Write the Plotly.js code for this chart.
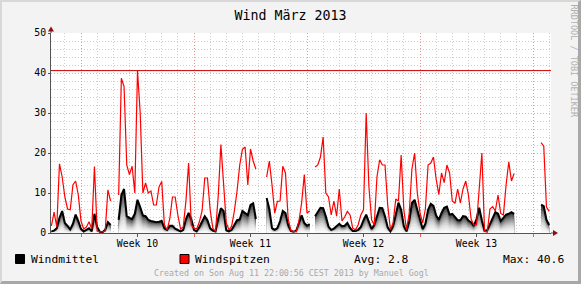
<!DOCTYPE html>
<html>
<head>
<meta charset="utf-8">
<script src="https://cdn.plot.ly/plotly-3.0.1.min.js"></script>
<style>
  html, body { margin: 0; padding: 0; background: #f3f3f3; }
  #wrap { position: relative; width: 581px; height: 284px; }
  #chart { position: absolute; left: 0; top: 0; width: 581px; height: 284px; }
  #frame { position: absolute; left: 0; top: 0; width: 581px; height: 284px; box-sizing: border-box;
           border-style: solid; border-width: 2px 3px 3px 2px;
           border-color: #d8d8d8 #a8a8a8 #a8a8a8 #d8d8d8; pointer-events: none; }
</style>
</head>
<body>
<div id="wrap"><div id="chart"></div><div id="frame"></div></div>
<script>
// ---- data (4-hourly samples starting 2013-03-02 04:00) ----
const sampleStart = '2013-03-02 04:00';
const sampleStepHours = 4;

const windspitzen = [
  1.8, 5.2, 1.5, 17.3, 14, 9, 6, 5.8, 12, 13,
  9.5, 3, 1, 1.5, 2.8, 1, 16.6, 0.5, 0.3, 0.3,
  0.5, 10.8, 8, null, null, 9.5, 38.7, 36.6, 17, 14.6,
  16.7, 10, 40.6, 30, 10, 12.5, 10, 10.5, 7, 7,
  11.5, 12.9, 2, 0.8, 3.5, 9, 9, 4.5, 1, 1.5,
  8, 17.5, 2, 1.2, 1, 2.8, 5.5, 13.75, 13.75, 5.8,
  1.2, 0.4, 9.2, 22.1, 12, 2.5, 0.8, 1.7, 5.5, 10.5,
  17, 20.9, 21.5, 12, 21, 18, 16, null, null, null,
  14, 18, 12, 5, 7.9, 8, 16.7, 15, 3.5, 0.6,
  0.4, 0.3, 3, 7.5, 14.6, 5, 5.5, null, 16.5, 17,
  19, 24, 10, 9, 4.5, 8, 4.2, 11, 3, 4,
  5.4, 4.5, 1.2, 0.8, 2, 4.5, 5.8, 30, 11.7, 3.3,
  2, 14, 18.3, 17, 17, 7, 0.8, 2.5, 8.5, 8,
  19.5, 5.8, 0.8, 5, 16, 20, 10, 5, 2.5, 6,
  17, 17.5, 19, 13.5, 9.6, 15, 12.6, 17, 15, 8,
  7.4, 11, 7.5, 11, 13, 9.5, 3.5, 2, 2, 12,
  20, 0.4, 0.2, 6, 6.6, 5.5, 9.5, 4.9, 4.5, 12,
  17.8, 13, 14.9, null, null, null, null, null, null, null,
  null, null, 22.6, 21.7, 6.5, 5.4
];

const windmittel = [
  0.4, 0.6, 1.2, 3.8, 5.5, 2.5, 1.8, 0.9, 2.3, 4.6,
  3, 1, 0.4, 0.8, 1.2, 0.4, 4.8, 1.5, 0.3, 0.2,
  0.8, 2.7, 2, null, null, 3.3, 9.5, 11, 4.2, 3.8,
  3.5, 4.8, 8.3, 6.5, 4.4, 4.2, 3.3, 3, 2.9, 2.7,
  2.8, 3, 1.2, 0.8, 1.8, 1.8, 1.1, 0.7, 0.4, 0.8,
  3.5, 5, 3.5, 0.8, 0.4, 1.5, 2.7, 4.2, 3.2, 1.2,
  0.6, 0.4, 3.7, 6.2, 5.5, 0.7, 0.4, 0.8, 2, 3.2,
  3.4, 5.5, 5, 4.5, 7, 7.4, 3.5, null, null, null,
  8.75, 6, 1.2, 0.8, 1.25, 3, 5.5, 5, 2, 0.5,
  0.3, 0.6, 2.5, 4.4, 2.5, 1.8, 2.2, null, 4.2, 5.2,
  6.3, 6.2, 4.2, 1.6, 0.8, 1.1, 1.8, 2.3, 1.7, 1.8,
  2.5, 1.25, 0.5, 0.5, 0.8, 1.5, 3.2, 4.6, 2.8, 1,
  2, 4.3, 6.3, 6.2, 4.2, 1.4, 0.4, 1.7, 5, 7.6,
  5.8, 1.7, 0.4, 3, 7.5, 8.3, 5.8, 3, 1, 2.3,
  5.8, 7.3, 6.8, 4.4, 3.3, 5, 6.3, 6.6, 4.6, 4.8,
  4, 3.2, 3.2, 4.2, 4.1, 3.1, 2.7, 1.8, 3.5, 6.3,
  3.2, 0.5, 0.7, 2.2, 3.6, 5.2, 4.8, 3, 3.8, 4.6,
  4.8, 5.2, 4.8, null, null, null, null, null, null, null,
  null, null, 7.1, 6.7, 3.3, 2
];

const weekLabelPos = ['2013-03-07 12:00', '2013-03-14 12:00', '2013-03-21 12:00', '2013-03-28 12:00'];
const weekLabels = ['Week 10', 'Week 11', 'Week 12', 'Week 13'];
const weekStarts = ['2013-03-04', '2013-03-11', '2013-03-18', '2013-03-25', '2013-04-01'];
const xRange = ['2013-03-02 03:24', '2013-04-02 02:46'];
const avgText = 'Avg: 2.8';
const maxText = 'Max: 40.6';

// ---- build time axis for samples ----
function pad(n) { return (n < 10 ? '0' : '') + n; }
const t0 = Date.parse(sampleStart.replace(' ', 'T') + ':00Z');
const times = windspitzen.map((_, i) => {
  const d = new Date(t0 + i * sampleStepHours * 3600000);
  return d.getUTCFullYear() + '-' + pad(d.getUTCMonth() + 1) + '-' + pad(d.getUTCDate()) + ' ' +
         pad(d.getUTCHours()) + ':' + pad(d.getUTCMinutes());
});

// contiguous non-null runs
function runs(arr) {
  const out = []; let s = -1;
  arr.forEach((v, i) => {
    if (v != null && s < 0) s = i;
    if ((v == null || i === arr.length - 1) && s >= 0) { out.push([s, v == null ? i : i + 1]); s = -1; }
  });
  return out;
}

const FONT = 'DejaVu Sans Mono, monospace';
const traces = [];

// gradient area for Windmittel
const levels = [1.0, 0.9, 0.8, 0.7, 0.6, 0.5, 0.4, 0.3, 0.2, 0.1];
const shades = ['#3a3a3a', '#585858', '#767676', '#929292', '#ababab', '#c2c2c2', '#d6d6d6', '#e6e6e6', '#f1f1f1', '#f9f9f9'];
const segs = runs(windmittel);
levels.forEach((k, j) => {
  segs.forEach(([a, b]) => {
    traces.push({
      x: times.slice(a, b), y: windmittel.slice(a, b).map(v => v * k),
      type: 'scatter', mode: 'lines', fill: 'tozeroy', fillcolor: shades[j],
      line: { width: 0, color: shades[j] }, hoverinfo: 'skip', showlegend: false
    });
  });
});
traces.push({
  x: times, y: windmittel, type: 'scatter', mode: 'lines',
  line: { width: 2, color: '#000000' }, connectgaps: false, showlegend: false, name: 'Windmittel'
});
traces.push({
  x: times, y: windspitzen, type: 'scatter', mode: 'lines',
  line: { width: 1.2, color: '#ff0000' }, connectgaps: false, showlegend: false, name: 'Windspitzen'
});
const maxVal = Math.max(...windspitzen.filter(v => v != null));
traces.push({
  x: xRange, y: [maxVal, maxVal], xaxis: 'x2', type: 'scatter', mode: 'lines',
  line: { width: 1, color: '#cc0000' }, showlegend: false, hoverinfo: 'skip'
});

const px = v => (v - 51) / 500;
const py = v => (233 - v) / 200;
const gridGray = 'rgba(185,185,185,0.7)';
const gridRed = 'rgba(225,130,130,0.7)';
const axisCol = '#555555';
const arrowCol = '#8b1010';
const dash = '1px,2px';

const layout = {
  width: 581, height: 284,
  margin: { l: 51, r: 30, t: 33, b: 51, pad: 0 },
  paper_bgcolor: '#f3f3f3', plot_bgcolor: '#ffffff',
  font: { family: FONT, size: 10, color: '#000' },
  title: { text: 'Wind März 2013', x: 0.5, xanchor: 'center', y: 1 - 15 / 284, yanchor: 'middle',
           font: { family: FONT, size: 13.3, color: '#000' } },
  xaxis: {
    type: 'date', range: xRange, tickmode: 'array', tickvals: weekLabelPos, ticktext: weekLabels,
    ticks: 'outside', ticklen: 3, tickcolor: axisCol, showgrid: false, zeroline: false,
    showline: true, linecolor: axisCol, linewidth: 1, ticklabelstandoff: -2,
    tickfont: { family: FONT, size: 9.8, color: '#000' },
    minor: { dtick: 86400000, tick0: '2013-03-01', showgrid: true, gridcolor: gridGray, griddash: dash, gridwidth: 1, ticks: '' }
  },
  xaxis2: {
    type: 'date', range: xRange, overlaying: 'x', anchor: 'y', side: 'bottom',
    tickmode: 'array', tickvals: weekStarts, showticklabels: false,
    ticks: 'outside', ticklen: 3, tickcolor: '#e06060',
    showgrid: true, gridcolor: gridRed, griddash: dash, gridwidth: 1, zeroline: false, showline: false
  },
  yaxis: {
    range: [0, 50], dtick: 10, tick0: 0, ticks: 'outside', ticklen: 2, tickcolor: axisCol,
    showgrid: true, gridcolor: gridRed, griddash: dash, zeroline: false,
    showline: true, linecolor: axisCol, linewidth: 1,
    tickfont: { family: FONT, size: 9.8, color: '#000' },
    minor: { dtick: 2, showgrid: true, gridcolor: gridGray, griddash: dash, ticks: '' }
  },
  shapes: [
    { type: 'line', xref: 'paper', yref: 'paper', x0: 0, x1: 0, y0: 1, y1: 1.015, line: { color: axisCol, width: 1 } },
    { type: 'line', xref: 'paper', yref: 'paper', x0: 1, x1: 1.006, y0: 0, y1: 0, line: { color: axisCol, width: 1 } },
    { type: 'path', xref: 'paper', yref: 'paper', fillcolor: arrowCol, line: { width: 0 },
      path: `M ${px(51)} ${py(26.5)} L ${px(48)} ${py(31.5)} L ${px(54)} ${py(31.5)} Z` },
    { type: 'path', xref: 'paper', yref: 'paper', fillcolor: arrowCol, line: { width: 0 },
      path: `M ${px(558)} ${py(233)} L ${px(553)} ${py(230)} L ${px(553)} ${py(236)} Z` },
    { type: 'rect', xref: 'paper', yref: 'paper', x0: px(15.5), x1: px(24.5), y0: py(263.5), y1: py(254.5),
      fillcolor: '#000000', line: { color: '#000', width: 1 } },
    { type: 'rect', xref: 'paper', yref: 'paper', x0: px(180), x1: px(189), y0: py(263.5), y1: py(254.5),
      fillcolor: '#ff0000', line: { color: '#000', width: 1 } }
  ],
  annotations: [
    { text: 'Windmittel', x: px(28.5), y: py(259), xref: 'paper', yref: 'paper', xanchor: 'left', yanchor: 'middle', showarrow: false,
      font: { family: FONT, size: 11.3, color: '#000' } },
    { text: 'Windspitzen', x: px(192.5), y: py(259), xref: 'paper', yref: 'paper', xanchor: 'left', yanchor: 'middle', showarrow: false,
      font: { family: FONT, size: 11.3, color: '#000' } },
    { text: avgText, x: px(352), y: py(259), xref: 'paper', yref: 'paper', xanchor: 'left', yanchor: 'middle', showarrow: false,
      font: { family: FONT, size: 11.3, color: '#000' } },
    { text: maxText, x: px(501), y: py(259), xref: 'paper', yref: 'paper', xanchor: 'left', yanchor: 'middle', showarrow: false,
      font: { family: FONT, size: 11.3, color: '#000' } },
    { text: 'Created on Son Aug 11 22:00:56 CEST 2013 by Manuel Gogl', x: px(291), y: py(273), xref: 'paper', yref: 'paper',
      xanchor: 'center', yanchor: 'middle', showarrow: false, font: { family: FONT, size: 8.3, color: '#a8a8a8' } },
    { text: 'RRDTOOL / TOBI OETIKER', x: px(573.5), y: py(61), xref: 'paper', yref: 'paper', xanchor: 'center', yanchor: 'middle',
      textangle: 90, showarrow: false, font: { family: FONT, size: 8.5, color: '#b0b0b0' } }
  ]
};

Plotly.newPlot('chart', traces, layout, { staticPlot: true, displayModeBar: false });
</script>
</body>
</html>
